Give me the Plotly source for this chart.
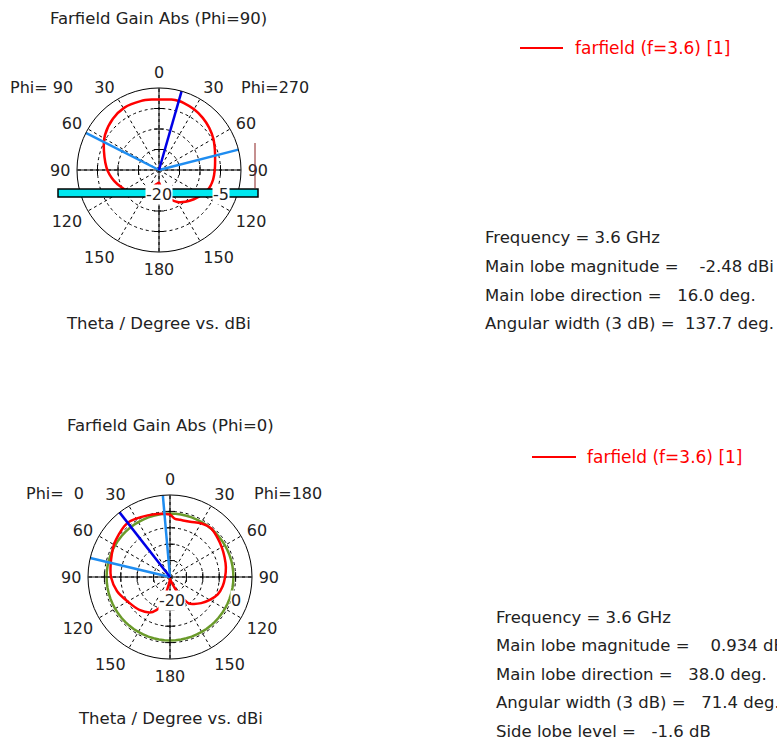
import plotly.graph_objects as go
import numpy as np

# ---------------- data ----------------
# plot angle: clockwise from top; right half = theta on Phi=270 / Phi=180 side,
# left half = 360 - theta on Phi=90 / Phi=0 side
top_angle = [0, 10, 16, 20, 30, 40, 50, 60, 70, 80, 90, 100, 110, 120, 130, 140,
             150, 160, 170, 175, 180, 190, 196, 204, 215, 232, 251, 269, 289,
             303, 318, 331, 345, 355, 360]
top_gain = [-2.8, -2.55, -2.48, -2.55, -2.9, -3.4, -4.0, -4.7, -5.5, -6.1, -6.4,
            -6.6, -7.0, -7.9, -8.9, -9.9, -11.0, -12.6, -14.4, -16.0, -16.9,
            -16.5, -16.0, -14.8, -12.9, -11.2, -9.3, -7.5, -5.8, -4.3, -3.2,
            -2.6, -2.6, -2.75, -2.8]
top_range = [-20, 0]
top_main_dir = 16.0
top_bw_dirs = [75.6, 296.9]

bot_angle = [0, 5, 10, 20, 30, 40, 50, 60, 70, 80, 90, 100, 110, 120, 130, 140,
             145, 150, 155, 160, 170, 180, 185, 190, 194, 197, 200, 208, 223,
             240, 255, 270, 280, 292, 301, 310, 318, 322, 325, 334, 346, 355, 360]
bot_gain = [-1.0, -2.2, -2.3, -2.1, -1.1, -0.6, -1.2, -1.8, -2.3, -2.7, -3.2,
            -3.7, -4.5, -6.0, -7.6, -9.3, -10.3, -12.7, -15.4, -17.5, -19.0,
            -19.4, -18.8, -17.5, -14.9, -10.9, -9.8, -7.8, -6.3, -5.1, -3.3,
            -2.0, -1.6, -0.9, -0.2, 0.3, 0.85, 0.934, 0.85, 0.3, -0.3, -0.7, -1.0]
bot_range = [-20, 5]
bot_main_dir = 322.0
bot_bw_dirs = [355.0, 283.4]
bot_side_lobe = 0.934 - 1.6

angle_ticks = list(range(0, 360, 30))
angle_text = ["0", "30", "60", "90", "120", "150", "180", "150", "120", "90", "60", "30"]

titles = ["Farfield Gain Abs (Phi=90)", "Farfield Gain Abs (Phi=0)"]
xlabel = "Theta / Degree vs. dBi"
legend_text = "farfield (f=3.6) [1]"
info_top = ["Frequency = 3.6 GHz",
            "Main lobe magnitude =    -2.48 dBi",
            "Main lobe direction =   16.0 deg.",
            "Angular width (3 dB) =  137.7 deg."]
info_bot = ["Frequency = 3.6 GHz",
            "Main lobe magnitude =    0.934 dBi",
            "Main lobe direction =   38.0 deg.",
            "Angular width (3 dB) =   71.4 deg.",
            "Side lobe level =   -1.6 dB"]

# ---------------- layout geometry ----------------
W, H = 777, 742
FONT = "DejaVu Sans"
FS = 16.5
TFS = 16
R = 82
centers = {"polar": (159, 170), "polar2": (170, 577)}


def dom(c):
    cx, cy = c
    return dict(x=[(cx - R) / W, (cx + R) / W], y=[1 - (cy + R) / H, 1 - (cy - R) / H])


def px(x):
    return x / W


def py(y):
    return 1 - y / H


RED = "#ff0000"
DBLUE = "#0000e6"
LBLUE = "#1e8cf0"
GREEN = "#6a9a2a"

fig = go.Figure()


def add_plot(sub, angle, gain, rng, main_dir, bw_dirs):
    lo, hi = rng
    # solid cross axes
    fig.add_trace(go.Scatterpolar(theta=[0, 180], r=[hi, hi], mode="lines",
                                  line=dict(color="black", width=1), subplot=sub,
                                  hoverinfo="skip", showlegend=False))
    fig.add_trace(go.Scatterpolar(theta=[90, 270], r=[hi, hi], mode="lines",
                                  line=dict(color="black", width=1), subplot=sub,
                                  hoverinfo="skip", showlegend=False))
    # small ticks on the cross axes at each ring
    rings = list(range(lo + 5, hi, 5))
    fig.add_trace(go.Scatterpolar(theta=[0] * len(rings) + [180] * len(rings),
                                  r=rings + rings, mode="markers",
                                  marker=dict(symbol="line-ew", size=7,
                                              line=dict(color="black", width=1)),
                                  subplot=sub, hoverinfo="skip", showlegend=False))
    fig.add_trace(go.Scatterpolar(theta=[90] * len(rings) + [270] * len(rings),
                                  r=rings + rings, mode="markers",
                                  marker=dict(symbol="line-ns", size=7,
                                              line=dict(color="black", width=1)),
                                  subplot=sub, hoverinfo="skip", showlegend=False))
    # pattern
    fig.add_trace(go.Scatterpolar(theta=angle, r=gain, mode="lines",
                                  line=dict(color=RED, width=2.5, shape="spline"),
                                  subplot=sub, showlegend=False))
    # 3 dB lines
    for d in bw_dirs:
        fig.add_trace(go.Scatterpolar(theta=[d, d], r=[lo, hi], mode="lines",
                                      line=dict(color=LBLUE, width=2.5), subplot=sub,
                                      hoverinfo="skip", showlegend=False))
    # main lobe direction
    fig.add_trace(go.Scatterpolar(theta=[main_dir, main_dir], r=[lo, hi], mode="lines",
                                  line=dict(color=DBLUE, width=2.5), subplot=sub,
                                  hoverinfo="skip", showlegend=False))


add_plot("polar", top_angle, top_gain, top_range, top_main_dir, top_bw_dirs)

# side lobe level circle (bottom)
circ = list(range(0, 361, 5))
fig.add_trace(go.Scatterpolar(theta=circ, r=[bot_side_lobe] * len(circ), mode="lines",
                              line=dict(color=GREEN, width=2.5), subplot="polar2",
                              hoverinfo="skip", showlegend=False))
add_plot("polar2", bot_angle, bot_gain, bot_range, bot_main_dir, bot_bw_dirs)


def polar_layout(c, rng):
    return dict(
        domain=dom(c),
        bgcolor="white",
        radialaxis=dict(range=rng, dtick=5, tick0=rng[0], showticklabels=False,
                        ticks="", showline=False, gridcolor="black", gridwidth=1,
                        griddash="3px,3px"),
        angularaxis=dict(rotation=90, direction="clockwise", tickmode="array",
                         tickvals=angle_ticks, ticktext=angle_text,
                         ticks="outside", ticklen=3, tickcolor="rgba(0,0,0,0)",
                         showline=True, linecolor="black", linewidth=1,
                         gridcolor="black", gridwidth=1, griddash="3px,3px",
                         tickfont=dict(family=FONT, size=TFS, color="#222")),
    )


fig.update_layout(
    width=W, height=H, margin=dict(l=0, r=0, t=0, b=0),
    paper_bgcolor="white", plot_bgcolor="white", showlegend=False,
    polar=polar_layout(centers["polar"], top_range),
    polar2=polar_layout(centers["polar2"], bot_range),
    font=dict(family=FONT, size=FS, color="#222"),
)

ann = []


def text(x, y, s, color="#222", size=FS, xanchor="center", bg=None):
    d = dict(x=px(x), y=py(y), xref="paper", yref="paper", text=s.replace(" ", "\u00a0"),
             showarrow=False, xanchor=xanchor, yanchor="middle",
             font=dict(family=FONT, size=size, color=color))
    if bg:
        d["bgcolor"] = bg
        d["borderpad"] = 0
    ann.append(d)


# titles and axis captions
text(158, 19, titles[0])
text(170, 425, titles[1])
text(158, 323, xlabel)
text(170, 718, xlabel)
text(41, 88, "Phi= 90", size=TFS)
text(275, 88, "Phi=270", size=TFS)
text(55, 494, "Phi=  0", size=TFS)
text(288, 494, "Phi=180", size=TFS)

# cyan bar on top plot
shapes = [dict(type="rect", xref="paper", yref="paper", x0=px(58), x1=px(258),
               y0=py(197), y1=py(189), fillcolor="#00e8f0",
               line=dict(color="black", width=1.5), layer="above"),
          dict(type="line", xref="paper", yref="paper", x0=px(255), x1=px(255),
               y0=py(143), y1=py(188), line=dict(color="#8b2020", width=1), layer="above")]


# radial value labels
def rlab(c, rng, v):
    cx, cy = c
    return cx + (v - rng[0]) / (rng[1] - rng[0]) * R


text(rlab(centers["polar"], top_range, -20), 194, "-20", size=TFS, bg="white")
text(rlab(centers["polar"], top_range, -5), 194, "-5", size=TFS, bg="white")
text(rlab(centers["polar2"], bot_range, -20) + 2, 600, "-20", size=TFS, bg="white")
text(rlab(centers["polar2"], bot_range, 0), 600, "0", size=TFS, bg="white")

# legends
for (x0, x1, y, tx) in [(520, 563, 48, 573), (532, 576, 457, 585)]:
    shapes.append(dict(type="line", xref="paper", yref="paper", x0=px(x0), x1=px(x1),
                       y0=py(y), y1=py(y), line=dict(color=RED, width=2)))
    text(tx, y, legend_text, color=RED, size=17, xanchor="left")

# info blocks
for i, s in enumerate(info_top):
    text(483, 238 + i * 28.5, s, xanchor="left")
for i, s in enumerate(info_bot):
    text(494, 617 + i * 28.5, s, xanchor="left")

fig.update_layout(annotations=ann, shapes=shapes)
fig.write_html("out.html", config={"displayModeBar": False},
               post_script="document.body.style.margin='0';document.body.style.overflow='hidden';")
